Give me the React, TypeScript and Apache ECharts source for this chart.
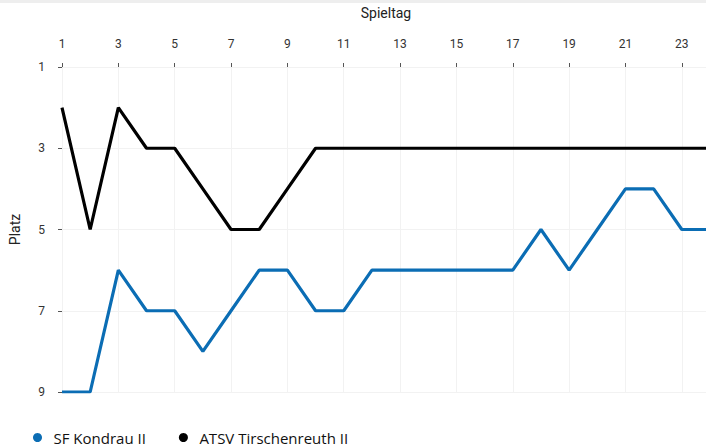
import React, { useEffect, useRef } from "react";
import * as echarts from "echarts";

const spieltage = [1, 2, 3, 4, 5, 6, 7, 8, 9, 10, 11, 12, 13, 14, 15, 16, 17, 18, 19, 20, 21, 22, 23, 24];
const kondrau = [9, 9, 6, 7, 7, 8, 7, 6, 6, 7, 7, 6, 6, 6, 6, 6, 6, 5, 6, 5, 4, 4, 5, 5];
const tirschenreuth = [2, 5, 2, 3, 3, 4, 5, 5, 4, 3, 3, 3, 3, 3, 3, 3, 3, 3, 3, 3, 3, 3, 3, 3];
const seriesNames = ["SF Kondrau II", "ATSV Tirschenreuth II"];
const seriesColors = ["#0b6db4", "#000000"];

export default function App() {
  const ref = useRef<HTMLDivElement>(null);
  useEffect(() => {
    if (!ref.current) return;
    const chart = echarts.init(ref.current, undefined, { renderer: "svg" });
    const font = "Roboto, 'Liberation Sans', Arial, sans-serif";
    chart.setOption({
      animation: false,
      textStyle: { fontFamily: font },
      grid: { left: 62, top: 67, right: 20, bottom: 56, containLabel: false },
      legend: {
        bottom: -2,
        left: 28,
        itemWidth: 22,
        itemHeight: 9,
        itemGap: 33,
        icon: "circle",
        textStyle: { fontSize: 15, color: "#111", fontFamily: "'Open Sans', Roboto, sans-serif" },
        data: seriesNames,
      },
      xAxis: {
        type: "value",
        position: "top",
        min: 1,
        max: 24,
        interval: 2,
        name: "Spieltag",
        nameLocation: "middle",
        nameGap: 47,
        nameTextStyle: { fontSize: 14, color: "#222" },
        axisLine: { show: false },
        axisTick: { show: true, length: 4, lineStyle: { color: "#555", width: 1 } },
        axisLabel: { margin: 17, fontSize: 12, color: "#333", showMaxLabel: false },
        splitLine: { show: true, lineStyle: { color: "#f2f2f2", width: 1 } },
      },
      yAxis: {
        type: "value",
        inverse: true,
        min: 1,
        max: 9,
        interval: 2,
        name: "Platz",
        nameLocation: "middle",
        nameGap: 40,
        nameRotate: 90,
        nameTextStyle: { fontSize: 14, color: "#222" },
        axisLine: { show: false },
        axisTick: { show: true, length: 4, lineStyle: { color: "#555", width: 1 } },
        axisLabel: { margin: 17, fontSize: 12, color: "#333" },
        splitLine: { show: true, lineStyle: { color: "#f2f2f2", width: 1 } },
      },
      series: [
        {
          name: seriesNames[0],
          type: "line",
          data: spieltage.map((s, i) => [s, kondrau[i]]),
          showSymbol: false,
          symbol: "circle",
          lineStyle: { width: 3.2, color: seriesColors[0] },
          itemStyle: { color: seriesColors[0] },
        },
        {
          name: seriesNames[1],
          type: "line",
          data: spieltage.map((s, i) => [s, tirschenreuth[i]]),
          showSymbol: false,
          symbol: "circle",
          lineStyle: { width: 3.2, color: seriesColors[1] },
          itemStyle: { color: seriesColors[1] },
        },
      ],
    });
    return () => chart.dispose();
  }, []);
  return (
    <div
      style={{
        position: "fixed",
        left: 0,
        top: 0,
        width: 706,
        height: 448,
        overflow: "hidden",
        background: "#fff",
      }}
    >
      <div ref={ref} style={{ position: "absolute", left: 0, top: 0, width: 730, height: 448 }} />
      <div style={{ position: "absolute", left: 0, top: 0, width: 706, height: 3, background: "#eeeeee" }} />
    </div>
  );
}
